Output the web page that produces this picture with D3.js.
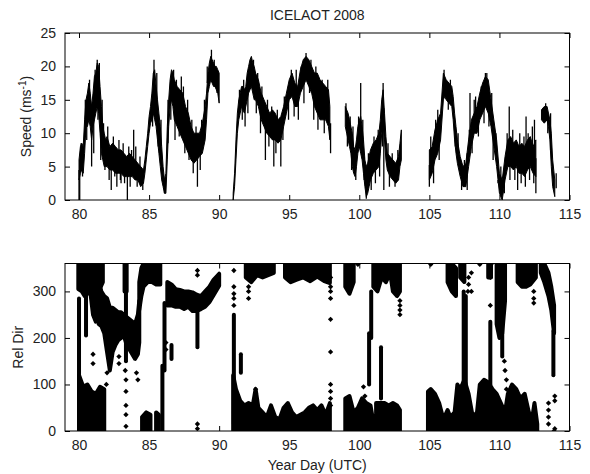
<!DOCTYPE html>
<html>
<head>
<meta charset="utf-8">
<script src="https://cdn.jsdelivr.net/npm/d3@7"></script>
<style>
  body { margin: 0; background: #fff; }
  svg text { font-family: "Liberation Sans", Arial, sans-serif; fill: #222; }
</style>
</head>
<body>
<svg id="chart" width="590" height="474"></svg>
<script>
// ---- data ----
// wind speed: [year day, lower edge, upper edge] of the noisy trace, null = no data
const speedBand = [
  [80.0, 3, 6], [80.1, 4, 8], [80.2, 4.5, 8.5], [80.3, 4, 8], [80.4, 7, 12], [80.5, 11, 15],
  [80.6, 11, 16], [80.7, 12, 17.5], [80.8, 11, 16], [80.9, 9, 14], [81.0, 11, 16], [81.1, 12, 18.5],
  [81.2, 13, 19], [81.3, 14, 20.5], [81.4, 13, 20], [81.5, 10, 17], [81.6, 7, 14], [81.7, 6, 11],
  [81.8, 5, 10], [81.9, 5, 9], [82.0, 5, 9.5], [82.2, 4.5, 8], [82.4, 4.5, 8.5], [82.6, 4, 8],
  [82.8, 4, 7.5], [83.0, 4, 7.5], [83.2, 3.5, 7], [83.4, 3.5, 6.5], [83.6, 3.5, 7], [83.8, 3.5, 6.5],
  [84.0, 3, 6], [84.2, 3, 5.5], [84.4, 2, 5], [84.6, 2.5, 4.5], [84.7, 4, 6], [84.8, 6, 8],
  [84.9, 8, 10], [85.0, 10, 12.5], [85.1, 11.5, 14], [85.2, 12, 16], [85.3, 13, 19], [85.4, 12, 19.5],
  [85.5, 11, 17], [85.6, 9, 15], [85.7, 7, 13], [85.8, 5, 11], [85.9, 3, 8], [86.0, 2, 5],
  [86.1, 1, 3], [86.2, 1, 4], [86.3, 6, 11], [86.4, 11, 15], [86.5, 14, 18], [86.6, 15, 19.5],
  [86.7, 14, 19], [86.8, 12, 18], [87.0, 11, 17], [87.2, 10, 16.5], [87.4, 9, 16], [87.6, 8, 14],
  [87.8, 7, 13], [88.0, 6, 11], [88.2, 5.5, 10], [88.4, 6, 10], [88.6, 6.5, 10], [88.8, 7, 11.5],
  [89.0, 9, 14], [89.1, 12, 16], [89.2, 16, 19], [89.3, 17, 20.5], [89.4, 18, 21.5], [89.5, 17.5, 21],
  [89.6, 17, 20.5], [89.7, 17, 20], [89.8, 16.5, 20], [89.9, 16, 19.5], [90.0, 14.5, 19],
  [90.5, null, null],
  [91.0, 0, 1], [91.1, 2, 4], [91.2, 6, 9], [91.3, 10, 13], [91.4, 12, 15], [91.5, 13, 16],
  [91.6, 14, 17], [91.7, 13.5, 17], [91.8, 13, 16.5], [91.9, 14, 17], [92.0, 15, 19], [92.1, 16, 20],
  [92.2, 16.5, 21], [92.3, 17, 21.5], [92.4, 16, 20.5], [92.5, 15, 20], [92.6, 15, 19], [92.8, 14, 18],
  [93.0, 12, 16], [93.2, 11, 15], [93.4, 10, 14], [93.6, 9.5, 13], [93.8, 9, 13.5], [94.0, 9, 13],
  [94.2, 8.5, 12], [94.4, 9, 12.5], [94.6, 11, 14], [94.8, 13, 16], [95.0, 15, 18], [95.2, 15.5, 19],
  [95.4, 14, 17.5], [95.6, 14, 17], [95.8, 16, 19.5], [96.0, 17, 21], [96.2, 18, 21.5], [96.4, 17, 21],
  [96.6, 16, 20], [96.8, 14, 19], [97.0, 13, 19], [97.2, 12, 18], [97.4, 12, 17.5], [97.6, 12, 17],
  [97.8, 11, 16.5], [97.9, 9, 14],
  [98.4, null, null],
  [99.0, 11, 14], [99.1, 10, 13.5], [99.2, 9, 13], [99.3, 8, 12], [99.4, 7, 11], [99.5, 5, 10],
  [99.6, 4, 8], [99.7, 3.5, 7.5], [99.8, 5, 9], [99.9, 7, 11], [100.0, 8, 12], [100.1, 7, 12.5],
  [100.2, 6, 11], [100.3, 4, 9], [100.4, 2, 6], [100.5, 0.5, 5], [100.6, 1, 5.5], [100.7, 2, 6.5],
  [100.8, 3, 7.5], [101.0, 4, 8.5], [101.2, 4.5, 9], [101.4, 5, 10], [101.5, 7, 12], [101.6, 10, 15],
  [101.7, 11, 16.5], [101.8, 9, 13], [101.9, 6, 9.5], [102.0, 4.5, 7], [102.2, 3.5, 6.5], [102.4, 3, 6],
  [102.6, 2.5, 5.5], [102.8, 3, 6.5], [102.9, 5, 8.5], [103.0, 6, 10.5],
  [104.0, null, null],
  [105.0, 3, 7.5], [105.2, 4, 8], [105.4, 6, 10.5], [105.6, 7, 12], [105.8, 9, 13], [106.0, 15, 19],
  [106.1, 15.5, 18.5], [106.2, 15, 18], [106.4, 14.5, 17.5], [106.6, 14, 17], [106.7, 12, 15.5], [106.8, 9, 13],
  [106.9, 7, 11], [107.0, 5.5, 9], [107.2, 3.5, 6.5], [107.4, 2, 5], [107.6, 2, 5.5], [107.8, 5, 9],
  [108.0, 8, 12], [108.2, 10, 13], [108.4, 10, 14], [108.6, 12, 16], [108.8, 13, 17.5], [109.0, 14, 18.5],
  [109.2, 13, 18], [109.4, 11, 15], [109.6, 8, 12], [109.8, 5, 9], [110.0, 1, 4], [110.2, 0, 3],
  [110.4, 3, 6.5], [110.6, 5, 9], [110.8, 5, 9.5], [111.0, 4.5, 8.5], [111.2, 5, 9], [111.4, 4, 8],
  [111.6, 4, 8.5], [111.8, 3.5, 8], [112.0, 4.5, 9], [112.2, 5, 9.5], [112.4, 4, 8], [112.6, 3.5, 9],
  [112.8, null, null],
  [113.0, 12, 13.5], [113.2, 11.5, 14], [113.4, 12, 14], [113.5, 11, 13], [113.6, 9, 12], [113.7, 5, 10],
  [113.8, 2, 6], [113.95, 0.5, 3]
];

// single gusts / dips that stick out of the trace: [year day, speed]
const speedSpikes = [
  [80.0, 0], [80.05, 0], [80.15, 8.5], [80.25, 3.5], [80.45, 15], [80.55, 9], [80.75, 18],
  [80.9, 5], [81.05, 7], [81.15, 19.5], [81.3, 21], [81.35, 12], [81.45, 20.5], [81.55, 6],
  [81.65, 15], [81.75, 11.5], [81.85, 4.5], [82.05, 11], [82.15, 3], [82.3, 1.5], [82.45, 9.5],
  [82.55, 3.5], [82.7, 2], [82.85, 9], [82.95, 3], [83.0, 2.5], [83.15, 8.5], [83.25, 2.5],
  [83.45, 0], [83.55, 8], [83.65, 2], [83.75, 7.5], [83.9, 10.5], [84.05, 8], [84.15, 2],
  [84.35, 6.5], [84.55, 1.5], [85.25, 11], [85.35, 21], [85.55, 19], [85.65, 8], [85.85, 12],
  [86.1, 1], [86.35, 15], [86.55, 12], [86.75, 19.5], [86.85, 9], [86.95, 18], [87.15, 9.5],
  [87.3, 18.5], [87.45, 17], [87.55, 7], [87.75, 15], [87.85, 6], [88.05, 12], [88.15, 4],
  [88.35, 11], [88.45, 2], [88.65, 4.5], [88.75, 12], [88.95, 15], [89.15, 20], [89.45, 22.5],
  [89.65, 21], [89.85, 16], [91.45, 16.5], [91.65, 12], [91.75, 18], [91.85, 11], [92.05, 13],
  [92.45, 21], [92.65, 13], [92.75, 19], [92.95, 10], [93.05, 17], [93.3, 6], [93.45, 15],
  [93.55, 8], [93.75, 14], [93.9, 5], [94.05, 7], [94.15, 13.5], [94.4, 5], [94.55, 9],
  [94.65, 15.5], [94.95, 12], [95.15, 19.5], [95.35, 12.5], [95.5, 19.5], [95.65, 12], [95.85, 20],
  [96.05, 14.5], [96.2, 22], [96.45, 16], [96.55, 21], [96.75, 12], [96.9, 20], [97.05, 10.5],
  [97.35, 18], [97.5, 10], [97.75, 18], [97.95, 7],
  [99.05, 14.5], [99.15, 8], [99.35, 12.5], [99.45, 4.5], [99.55, 11], [99.75, 3], [99.95, 12.5],
  [100.1, 17.5], [100.25, 12], [100.35, 3], [100.5, 0.2], [100.65, 7], [100.85, 1.5], [101.05, 9.5],
  [101.15, 2.5], [101.35, 10.5], [101.45, 3.5], [101.65, 8], [101.7, 17.5], [101.75, 1.5],
  [102.05, 8.5], [102.15, 2], [102.35, 7], [102.55, 2], [102.75, 7.5],
  [105.0, 2], [105.1, 9.5], [105.3, 2.5], [105.45, 12], [105.6, 13.5], [105.7, 6], [106.05, 19.5],
  [106.35, 13.5], [106.5, 18], [106.85, 8], [107.05, 10], [107.3, 1.5], [107.5, 6], [107.7, 1.5],
  [107.85, 10.5], [107.9, 16], [108.05, 7], [108.2, 15], [108.3, 15.5], [108.5, 9.5], [108.7, 17],
  [108.9, 11.5], [109.0, 19], [109.1, 19], [109.25, 11], [109.45, 16], [109.55, 6], [109.75, 10],
  [109.9, 3], [110.1, 5], [110.35, 1], [110.55, 10], [110.7, 14], [110.75, 3], [110.95, 10.5],
  [111.1, 3], [111.3, 1.5], [111.45, 10], [111.55, 2.5], [111.75, 9.5], [111.85, 2], [111.9, 12.5],
  [112.05, 10], [112.15, 3], [112.35, 11], [112.45, 2.5], [112.5, 12], [112.6, 1],
  [113.1, 12], [113.3, 14.5], [113.45, 10], [113.65, 13], [114.05, 4]
];

// relative direction, dense clusters near 360: [year day, low, high]
const dirUpper = [
  [79.95, 305, 360], [80.2, 300, 360], [80.4, 290, 360], [80.6, 295, 360], [80.8, 300, 360],
  [81.0, 250, 360], [81.2, 235, 360], [81.4, 300, 360], [81.7, 320, 360], [81.75, null, null],
  [83.25, 300, 360], [83.4, 300, 360], [83.45, null, null],
  [84.3, 260, 320], [84.45, 290, 350], [84.6, 310, 360], [84.9, 320, 360], [85.2, 320, 360],
  [85.5, 315, 360], [85.8, 315, 360], [85.85, null, null],
  [91.9, 330, 360], [92.3, 320, 360], [92.7, 335, 360], [93.1, 330, 360], [93.5, 335, 360],
  [93.9, 340, 360], [94.0, null, null],
  [94.7, 330, 360], [95.1, 320, 360], [95.5, 325, 360], [96.0, 330, 360], [96.5, 322, 360],
  [97.0, 332, 360], [97.5, 322, 360], [97.9, 318, 360], [98.0, null, null],
  [99.0, 310, 360], [99.3, 295, 360], [99.6, 320, 360], [99.65, null, null],
  [101.0, 310, 360], [101.3, 300, 360], [101.6, 330, 360], [101.9, 320, 360], [102.2, 340, 360],
  [102.4, 300, 360], [102.7, 290, 360], [102.9, 300, 360], [102.95, null, null],
  [106.3, 320, 360], [106.6, 300, 360], [106.9, 290, 350], [107.0, null, null],
  [107.2, 330, 360], [107.5, 320, 360], [107.55, null, null],
  [109.2, 330, 360], [109.4, 330, 360], [109.45, null, null],
  [109.8, 230, 360], [110.0, 200, 360], [110.2, 210, 360], [110.4, 280, 360], [110.45, null, null],
  [111.3, 320, 360], [111.6, 310, 360], [111.9, 310, 360], [112.2, 315, 360], [112.6, 330, 360],
  [112.65, null, null],
  [112.95, 340, 360], [113.2, 320, 360], [113.5, 290, 340], [113.7, 260, 310], [113.9, 210, 270]
];

// relative direction, clusters in the middle
const dirMiddle = [
  [81.4, 230, 320], [81.6, 225, 300], [81.8, 210, 290], [82.0, 170, 285], [82.2, 130, 265],
  [82.4, 170, 265], [82.6, 185, 260], [82.8, 195, 255], [83.0, 200, 255], [83.2, 205, 250],
  [83.4, 185, 245], [83.6, 175, 240], [83.8, 165, 235], [84.0, 155, 230], [84.2, 165, 250],
  [84.3, 190, 280], [84.35, null, null],
  [86.3, 270, 320], [86.6, 270, 315], [86.9, 267, 305], [87.2, 267, 303], [87.5, 262, 300],
  [87.8, 267, 300], [88.1, 258, 298], [88.4, 258, 293], [88.7, 262, 290], [89.0, 267, 300],
  [89.3, 277, 310], [89.6, 292, 325], [90.0, 312, 338]
];

// relative direction, clusters near 0
const dirLower = [
  [80.0, 0, 120], [80.3, 0, 95], [80.6, 0, 100], [80.9, 0, 85], [81.2, 0, 80], [81.5, 0, 95],
  [81.8, 0, 90], [81.9, null, null],
  [84.5, 0, 30], [84.8, 0, 40], [85.1, 0, 35], [85.2, null, null],
  [85.5, 0, 40], [85.7, 0, 35], [85.75, null, null],
  [91.0, 0, 120], [91.2, 0, 90], [91.5, 0, 65], [91.8, 0, 55], [92.1, 0, 60], [92.4, 0, 55],
  [92.6, 0, 90], [92.8, 0, 50], [93.1, 0, 40], [93.4, 0, 30], [93.7, 0, 55], [94.0, 0, 30],
  [94.3, 0, 25], [94.6, 0, 50], [94.9, 0, 60], [95.2, 0, 40], [95.5, 0, 30], [95.8, 0, 35],
  [96.1, 0, 40], [96.4, 0, 50], [96.7, 0, 55], [97.0, 0, 45], [97.3, 0, 55], [97.6, 0, 35],
  [97.9, 0, 60], [98.0, null, null],
  [99.0, 0, 70], [99.3, 0, 75], [99.6, 0, 40], [99.9, 0, 50], [100.2, 0, 70], [100.5, 0, 60],
  [100.8, 0, 55], [101.0, 0, 20], [101.1, null, null],
  [101.2, 0, 60], [101.5, 0, 60], [101.8, 0, 60], [102.1, 0, 55], [102.4, 0, 60], [102.7, 0, 55],
  [102.9, 0, 45], [103.0, null, null],
  [104.9, 0, 85], [105.1, 0, 90], [105.4, 0, 80], [105.7, 0, 60], [106.0, 0, 25], [106.3, 0, 45],
  [106.5, 0, 30], [106.8, 0, 40], [107.0, 0, 100], [107.2, 0, 90], [107.5, 0, 110], [107.8, 0, 80],
  [108.1, 0, 30], [108.4, 0, 40], [108.6, 0, 100], [108.9, 0, 110], [109.2, 0, 105], [109.5, 0, 90],
  [109.8, 0, 80], [110.1, 0, 60], [110.4, 0, 40], [110.6, 0, 80], [110.9, 0, 100], [111.2, 0, 90],
  [111.5, 0, 70], [111.8, 0, 80], [112.1, 0, 40], [112.3, 0, 20], [112.5, 0, 60], [112.7, 0, 15]
];

// narrow vertical runs of markers: [year day, low, high]
const dirColumns = [
  [80.0, 100, 285], [80.5, 205, 290], [83.35, 150, 360], [85.95, 0, 140], [86.1, 130, 275],
  [86.6, 155, 185], [88.45, 180, 262], [91.05, 15, 250], [91.55, 125, 165], [100.7, 100, 210],
  [100.85, 200, 300], [101.55, 70, 180], [107.45, 60, 300], [107.6, 60, 290], [109.35, 100, 235],
  [110.2, 160, 360], [113.85, 120, 215]
];

// isolated markers: [year day, rel dir]
const dirScatter = [
  [83.35, 10], [83.35, 35], [83.35, 55], [83.35, 85], [83.35, 110], [83.3, 130],
  [82.85, 160], [82.85, 145], [84.1, 125], [84.2, 110], [81.0, 165], [81.0, 145],
  [82.0, 125], [81.95, 100], [86.2, 175], [86.2, 190],
  [88.45, 345], [88.45, 335], [88.45, 15], [88.45, 5],
  [91.05, 345], [91.05, 310], [91.05, 295], [91.05, 285], [91.05, 270],
  [92.1, 300], [92.1, 285], [92.1, 310], [92.6, 90], [92.6, 80],
  [97.95, 330], [97.95, 310], [97.95, 300], [97.95, 285], [97.95, 240], [97.95, 170],
  [97.95, 100], [97.95, 85], [97.95, 70], [97.95, 55],
  [99.9, 358], [100.3, 95], [100.4, 75],
  [102.9, 280], [102.9, 270], [102.9, 260], [102.9, 250],
  [105.1, 358], [107.8, 330], [107.8, 315], [107.75, 300], [108.0, 340], [108.0, 300],
  [108.6, 358], [109.35, 330], [109.35, 270], [109.4, 358],
  [110.35, 150], [110.4, 130], [110.5, 110], [110.5, 90],
  [112.45, 300], [112.45, 285], [112.45, 275],
  [113.5, 60], [113.5, 45], [113.5, 30], [113.5, 15],
  [113.95, 75], [113.95, 65], [113.95, 5], [113.9, 0]
];

const dayTicks = [80, 85, 90, 95, 100, 105, 110, 115];
const speedTicks = [0, 5, 10, 15, 20, 25];
const dirTicks = [0, 100, 200, 300];

// ---- layout ----
const svg = d3.select('#chart');
const left = 65, right = 569.5;
const top1 = 33, bot1 = 200;
const top2 = 263.5, bot2 = 431;

const x = d3.scaleLinear().domain([79, 115]).range([left, right]);
const ySpeed = d3.scaleLinear().domain([0, 25]).range([bot1, top1]);
const yDir = d3.scaleLinear().domain([0, 360]).range([bot2, top2]);

svg.append('defs').selectAll('clipPath')
    .data([['clip1', top1, bot1], ['clip2', top2, bot2]])
    .join('clipPath')
    .attr('id', d => d[0])
    .append('rect')
    .attr('x', left).attr('y', d => d[1])
    .attr('width', right - left).attr('height', d => d[2] - d[1]);

// box axes in the matlab style, ticks pointing inwards on all four sides
function drawBox(y, ticks, yTop, yBot) {
    const g = svg.append('g');
    g.append('g')
        .attr('transform', 'translate(0,' + yBot + ')')
        .call(d3.axisBottom(x).tickValues(dayTicks).tickSize(-5).tickSizeOuter(0).tickPadding(9));
    g.append('g')
        .attr('transform', 'translate(0,' + yTop + ')')
        .call(d3.axisTop(x).tickValues(dayTicks).tickSize(-5).tickSizeOuter(0).tickFormat(''));
    g.append('g')
        .attr('transform', 'translate(' + left + ',0)')
        .call(d3.axisLeft(y).tickValues(ticks).tickSize(-5).tickSizeOuter(0).tickPadding(9));
    g.append('g')
        .attr('transform', 'translate(' + right + ',0)')
        .call(d3.axisRight(y).tickValues(ticks).tickSize(-5).tickSizeOuter(0).tickFormat(''));
    g.selectAll('.domain').remove();
    g.selectAll('line').attr('stroke', '#000');
    g.selectAll('text')
        .style('font-size', '14px')
        .style('font-family', '"Liberation Sans", Arial, sans-serif')
        .attr('fill', '#222');
    g.append('rect')
        .attr('x', left).attr('y', yTop)
        .attr('width', right - left).attr('height', yBot - yTop)
        .attr('fill', 'none').attr('stroke', '#000').attr('stroke-width', 1);
}

// ---- top panel: speed ----
const speedArea = d3.area()
    .defined(d => d[1] !== null)
    .x(d => x(d[0]))
    .y0(d => ySpeed(d[1]))
    .y1(d => ySpeed(d[2]));

const p1 = svg.append('g').attr('clip-path', 'url(#clip1)');
p1.append('path')
    .datum(speedBand)
    .attr('d', speedArea)
    .attr('fill', '#000')
    .attr('stroke', '#000')
    .attr('stroke-width', 1);

// each spike runs from the middle of the trace at that day out to its value
const bandRows = speedBand.filter(r => r[1] !== null);
const bandMid = day => {
    const near = bandRows.reduce((a, b) => Math.abs(b[0] - day) < Math.abs(a[0] - day) ? b : a);
    return (near[1] + near[2]) / 2;
};
p1.selectAll('line.spike')
    .data(speedSpikes)
    .join('line')
    .attr('class', 'spike')
    .attr('x1', d => x(d[0])).attr('x2', d => x(d[0]))
    .attr('y1', d => ySpeed(bandMid(d[0])))
    .attr('y2', d => ySpeed(d[1]))
    .attr('stroke', '#000')
    .attr('stroke-width', 1.3);

drawBox(ySpeed, speedTicks, top1, bot1);

// ---- bottom panel: relative direction ----
const dirArea = d3.area()
    .defined(d => d[1] !== null)
    .x(d => x(d[0]))
    .y0(d => yDir(d[1]))
    .y1(d => yDir(d[2]));

const p2 = svg.append('g').attr('clip-path', 'url(#clip2)');
p2.selectAll('path.band')
    .data([dirUpper, dirMiddle, dirLower])
    .join('path')
    .attr('class', 'band')
    .attr('d', dirArea)
    .attr('fill', '#000')
    .attr('stroke', '#000')
    .attr('stroke-width', 4)
    .attr('stroke-linejoin', 'round');

// stacked markers, drawn as one thick stroke
p2.selectAll('line.col')
    .data(dirColumns)
    .join('line')
    .attr('class', 'col')
    .attr('x1', d => x(d[0])).attr('x2', d => x(d[0]))
    .attr('y1', d => yDir(d[1])).attr('y2', d => yDir(d[2]))
    .attr('stroke', '#000')
    .attr('stroke-width', 4)
    .attr('stroke-linecap', 'round');

const marker = d3.symbol().type(d3.symbolSquare).size(14);
p2.selectAll('path.pt')
    .data(dirScatter)
    .join('path')
    .attr('class', 'pt')
    .attr('transform', d => 'translate(' + x(d[0]) + ',' + yDir(d[1]) + ') rotate(45)')
    .attr('d', marker)
    .attr('fill', '#000');

drawBox(yDir, dirTicks, top2, bot2);

// ---- titles ----
svg.append('text')
    .attr('x', (left + right) / 2).attr('y', 20)
    .attr('text-anchor', 'middle')
    .style('font-size', '14px')
    .text('ICELAOT 2008');

const speedLabel = svg.append('text')
    .attr('transform', 'translate(31,' + ((top1 + bot1) / 2) + ') rotate(-90)')
    .attr('text-anchor', 'middle')
    .style('font-size', '14px');
speedLabel.append('tspan').text('Speed (ms');
speedLabel.append('tspan').attr('dy', -5).style('font-size', '10px').text('-1');
speedLabel.append('tspan').attr('dy', 5).text(')');

svg.append('text')
    .attr('transform', 'translate(23,' + ((top2 + bot2) / 2) + ') rotate(-90)')
    .attr('text-anchor', 'middle')
    .style('font-size', '14px')
    .text('Rel Dir');

svg.append('text')
    .attr('x', (left + right) / 2).attr('y', 470)
    .attr('text-anchor', 'middle')
    .style('font-size', '14px')
    .text('Year Day (UTC)');
</script>
</body>
</html>
